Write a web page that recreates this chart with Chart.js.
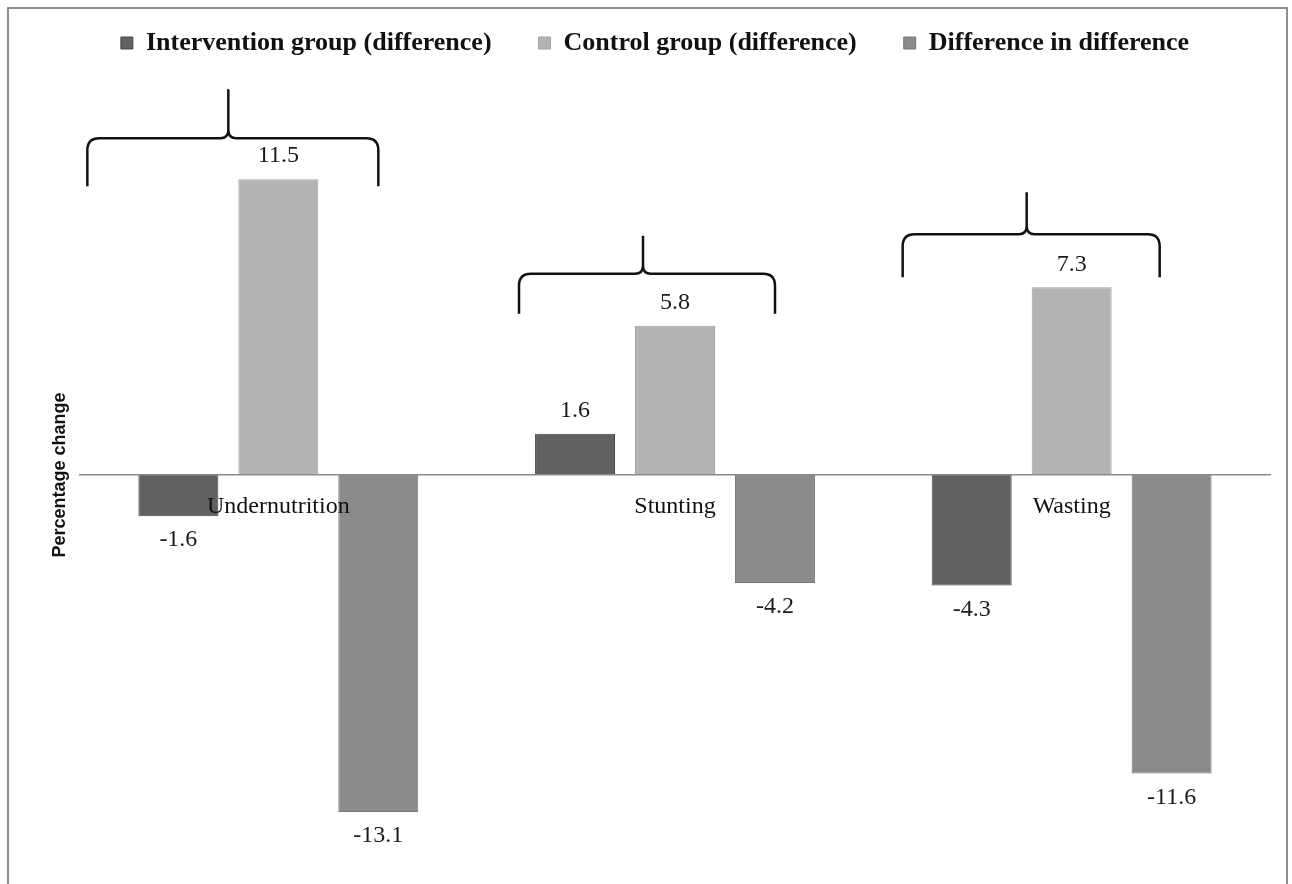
<!DOCTYPE html>
<html>
<head>
<meta charset="utf-8">
<script src="https://cdn.jsdelivr.net/npm/chart.js@4.4.1/dist/chart.umd.min.js"></script>
<style>
  html, body { margin: 0; padding: 0; background: #fff; }
  #wrap { width: 1292px; height: 884px; position: relative; }
</style>
</head>
<body>
<div id="wrap"><canvas id="myChart"></canvas></div>
<script>
const categories = ['Undernutrition', 'Stunting', 'Wasting']
const interventionDiff = [-1.6, 1.6, -4.3]
const controlDiff = [11.5, 5.8, 7.3]
const diffInDiff = [-13.1, -4.2, -11.6]
const seriesNames = ['Intervention group (difference)', 'Control group (difference)', 'Difference in difference']

// brace annotations, offsets in px from category centre / control bar top
const braces = [
    { left: -191, right: 100, tip: -50, line: -41, ends: 7, tipTop: -90 },
    { left: -156, right: 100, tip: -32, line: -52, ends: -12, tipTop: -90 },
    { left: -169, right: 88, tip: -45, line: -53, ends: -10, tipTop: -95 }
]

const serif = "'Liberation Serif', 'Times New Roman', serif"

const framePlugin = {
    id: 'frame',
    beforeDraw(chart) {
        const ctx = chart.ctx
        ctx.save()
        ctx.fillStyle = '#fff'
        ctx.fillRect(0, 0, chart.width, chart.height)
        ctx.strokeStyle = '#8e8e8e'
        ctx.lineWidth = 2
        ctx.strokeRect(8, 8, 1279, 900)
        ctx.restore()
    }
}

const valueLabels = {
    id: 'valueLabels',
    afterDatasetsDraw(chart) {
        const ctx = chart.ctx
        ctx.save()
        ctx.font = '24px ' + serif
        ctx.fillStyle = '#1a1a1a'
        ctx.textAlign = 'center'
        ctx.textBaseline = 'middle'
        chart.data.datasets.forEach((ds, i) => {
            chart.getDatasetMeta(i).data.forEach((bar, j) => {
                const v = ds.data[j]
                const y = v >= 0 ? bar.y - 23 : bar.y + 24
                ctx.fillText(v.toFixed(1), bar.x, y)
            })
        })
        ctx.restore()
    }
}

const bracePlugin = {
    id: 'braces',
    afterDatasetsDraw(chart) {
        const ctx = chart.ctx
        const xs = chart.scales.x
        const ctrl = chart.getDatasetMeta(1).data
        ctx.save()
        ctx.strokeStyle = '#111'
        ctx.lineWidth = 2.5
        ctx.lineJoin = 'round'
        braces.forEach((b, i) => {
            const cx = xs.getPixelForValue(i)
            const top = ctrl[i].y
            const L = cx + b.left, R = cx + b.right, T = cx + b.tip
            const hy = top + b.line, ey = top + b.ends, ty = top + b.tipTop
            const r = 12, s = 8
            ctx.beginPath()
            ctx.moveTo(L, ey)
            ctx.lineTo(L, hy + r)
            ctx.quadraticCurveTo(L, hy, L + r, hy)
            ctx.lineTo(T - s, hy)
            ctx.quadraticCurveTo(T, hy, T, hy - s)
            ctx.lineTo(T, ty)
            ctx.moveTo(T, hy - s)
            ctx.quadraticCurveTo(T, hy, T + s, hy)
            ctx.lineTo(R - r, hy)
            ctx.quadraticCurveTo(R, hy, R, hy + r)
            ctx.lineTo(R, ey)
            ctx.stroke()
        })
        ctx.restore()
    }
}

const data = {
    labels: categories,
    datasets: [{
        label: seriesNames[0],
        data: interventionDiff,
        backgroundColor: '#616161',
        borderColor: '#474747',
        borderWidth: 1
    }, {
        label: seriesNames[1],
        data: controlDiff,
        backgroundColor: '#b3b3b3',
        borderColor: '#a3a3a3',
        borderWidth: 1
    }, {
        label: seriesNames[2],
        data: diffInDiff,
        backgroundColor: '#8b8b8b',
        borderColor: '#777777',
        borderWidth: 1
    }]
}

const config = {
    type: 'bar',
    data: data,
    options: {
        responsive: true,
        maintainAspectRatio: false,
        animation: false,
        barPercentage: 0.8,
        categoryPercentage: 0.756,
        layout: {
            padding: { top: -17, left: 40, right: 22, bottom: -6 }
        },
        plugins: {
            legend: {
                position: 'top',
                labels: {
                    boxWidth: 12,
                    boxHeight: 12,
                    padding: 47,
                    color: '#111',
                    font: { family: serif, size: 26, weight: 'bold' }
                }
            },
            tooltip: { enabled: false }
        },
        scales: {
            x: {
                position: { y: 0 },
                grid: { display: false, drawTicks: false },
                border: { display: true, color: '#8a8a8a', width: 1.5, z: 1 },
                ticks: {
                    z: 1,
                    padding: 17,
                    color: '#111',
                    font: { family: serif, size: 24 }
                }
            },
            y: {
                min: -15.9,
                max: 15.9,
                grid: { display: false },
                border: { display: false },
                ticks: { display: false },
                title: {
                    display: true,
                    text: 'Percentage change',
                    color: '#111',
                    padding: { top: 9, bottom: 0 },
                    font: { family: "'Liberation Sans', Arial, sans-serif", size: 18, weight: 'bold' }
                },
                afterFit(scale) {
                    scale.width = 40
                }
            }
        }
    },
    plugins: [framePlugin, bracePlugin, valueLabels]
}

const myChart = new Chart(document.getElementById('myChart'), config)
</script>
</body>
</html>
